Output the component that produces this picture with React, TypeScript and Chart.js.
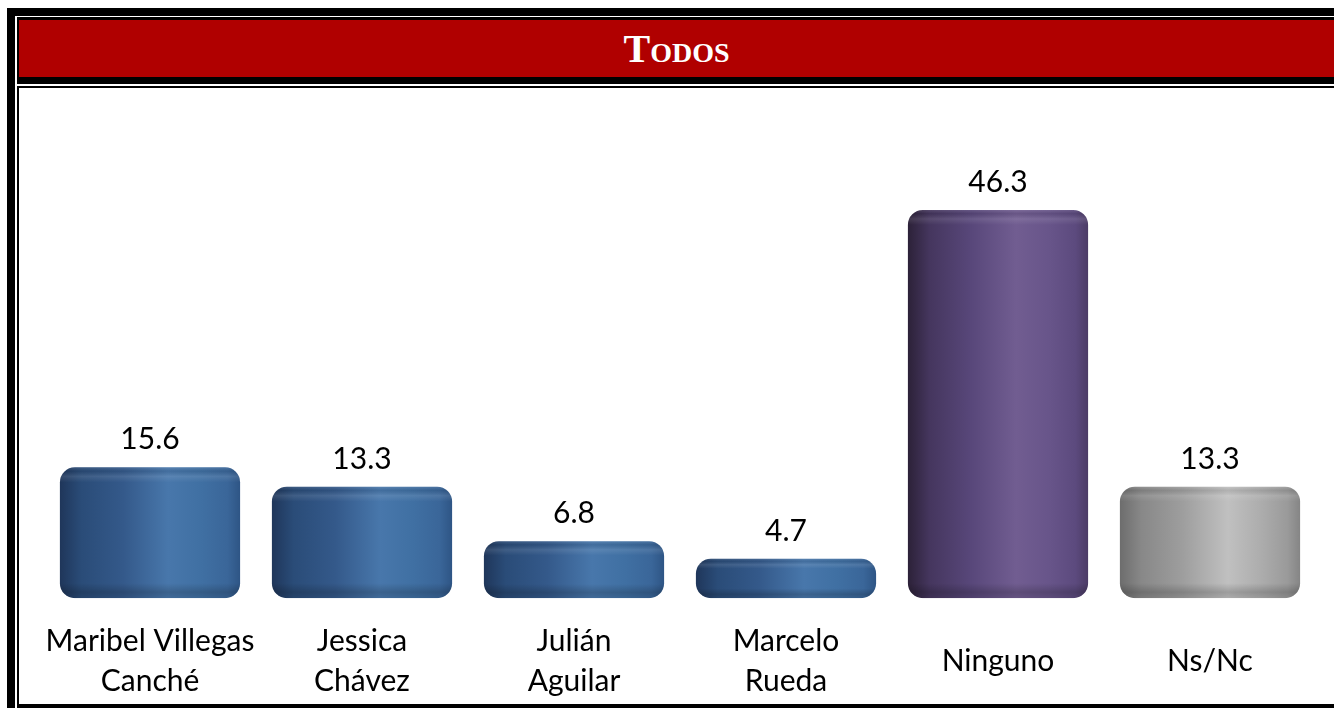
import React, { useEffect, useRef } from "react";
import { Chart, registerables } from "chart.js";

Chart.register(...registerables);

const title = "Todos";
const categories: (string | string[])[] = [
  ["Maribel Villegas", "Canché"],
  ["Jessica", "Chávez"],
  ["Julián", "Aguilar"],
  ["Marcelo", "Rueda"],
  "Ninguno",
  "Ns/Nc",
];
const values = [15.6, 13.3, 6.8, 4.7, 46.3, 13.3];
const valueLabels = ["15.6", "13.3", "6.8", "4.7", "46.3", "13.3"];
const barTones = ["blue", "blue", "blue", "blue", "purple", "gray"];

const palettes: Record<string, string[]> = {
  blue: ["#1f365a", "#2a4c78", "#34598a", "#4877ab", "#4070a3", "#3a6699", "#2e5585"],
  purple: ["#2c2138", "#45365e", "#58477a", "#715d91", "#68558a", "#5c4a7e", "#4c3c66"],
  gray: ["#6d6d6d", "#888888", "#9e9e9e", "#c0c0c0", "#adadad", "#9a9a9a", "#858585"],
};
const stopsPos = [0, 0.12, 0.35, 0.6, 0.78, 0.93, 1];
const FONT = "Lato, 'Open Sans', sans-serif";

const valueLabelPlugin = {
  id: "valueLabels",
  afterDatasetsDraw(chart: any) {
    const ctx = chart.ctx;
    const meta = chart.getDatasetMeta(0);
    ctx.save();
    meta.data.forEach((el: any, i: number) => {
      const { x, y, base, width } = el.getProps(["x", "y", "base", "width"], true);
      const left = x - width / 2;
      const h = base - y;
      const r = Math.min(15, h / 2);
      ctx.save();
      ctx.beginPath();
      (ctx as any).roundRect(left, y, width, h, r);
      ctx.clip();
      const g = ctx.createLinearGradient(0, y, 0, base);
      const e = Math.min(0.25, 15 / h);
      g.addColorStop(0, "rgba(255,255,255,0.10)");
      g.addColorStop(e * 0.25, "rgba(0,0,0,0.08)");
      g.addColorStop(e * 0.6, "rgba(255,255,255,0.10)");
      g.addColorStop(e, "rgba(255,255,255,0)");
      g.addColorStop(1 - e, "rgba(0,0,0,0)");
      g.addColorStop(1 - e * 0.4, "rgba(0,0,0,0.18)");
      g.addColorStop(1, "rgba(0,0,0,0.1)");
      ctx.fillStyle = g;
      ctx.fillRect(left, y, width, h);
      ctx.restore();

      ctx.fillStyle = "#000";
      ctx.font = `30px ${FONT}`;
      ctx.textAlign = "center";
      ctx.textBaseline = "alphabetic";
      ctx.fillText(valueLabels[i], x, y - 18);
    });
    ctx.restore();
  },
};

export default function App() {
  const canvasRef = useRef<HTMLCanvasElement | null>(null);

  useEffect(() => {
    if (!canvasRef.current) return;
    const chart = new Chart(canvasRef.current, {
      type: "bar",
      data: {
        labels: categories,
        datasets: [
          {
            data: values,
            backgroundColor: (c: any) => {
              const ch = c.chart;
              const xs = ch.scales?.x;
              const tone = palettes[barTones[c.dataIndex]] || palettes.blue;
              if (!xs || !ch.chartArea) return tone[2];
              const cx = xs.getPixelForValue(c.dataIndex);
              const w = (xs.width / categories.length) * 0.85;
              const g = ch.ctx.createLinearGradient(cx - w / 2, 0, cx + w / 2, 0);
              tone.forEach((col, k) => g.addColorStop(stopsPos[k], col));
              return g;
            },
            borderRadius: 15,
            borderSkipped: false,
            barPercentage: 0.85,
            categoryPercentage: 1,
          },
        ],
      },
      options: {
        animation: false,
        responsive: true,
        maintainAspectRatio: false,
        layout: { padding: { left: 25, right: 18, top: 7, bottom: 0 } },
        plugins: { legend: { display: false }, tooltip: { enabled: false } },
        scales: {
          x: {
            grid: { display: false },
            border: { display: false },
            afterFit: (scale: any) => {
              scale.paddingLeft = 0;
              scale.paddingRight = 0;
            },
            ticks: {
              color: "#000",
              font: { family: FONT, size: 30, lineHeight: 1.33 },
              padding: 35,
              maxRotation: 0,
              autoSkip: false,
              crossAlign: "center",
            },
          },
          y: {
            display: false,
            min: 0,
            max: 60,
          },
        },
      },
      plugins: [valueLabelPlugin],
    });
    return () => chart.destroy();
  }, []);

  return (
    <div
      style={{
        position: "absolute",
        left: 0,
        top: 0,
        width: 1334,
        height: 708,
        overflow: "hidden",
        background: "#fff",
      }}
    >
      <div style={{ position: "absolute", left: 7, top: 8, width: 8, height: 700, background: "#000" }} />
      <div style={{ position: "absolute", left: 7, top: 8, width: 1327, height: 8, background: "#000" }} />
      <div style={{ position: "absolute", left: 17, top: 17, width: 1317, height: 67, background: "#000" }} />
      <div
        style={{
          position: "absolute",
          left: 19,
          top: 20,
          width: 1315,
          height: 57,
          background: "#b00000",
          display: "flex",
          alignItems: "center",
          justifyContent: "center",
          color: "#fff",
          fontFamily: "'Liberation Serif', 'Times New Roman', serif",
          fontWeight: "bold",
          fontVariant: "small-caps",
          fontSize: 40,
          lineHeight: 1,
        }}
      >
        {title}
      </div>
      <div style={{ position: "absolute", left: 17, top: 86, width: 1317, height: 622, background: "#000" }} />
      <div style={{ position: "absolute", left: 19, top: 88, width: 1315, height: 616, background: "#fff" }} />
      <div style={{ position: "absolute", left: 19, top: 88, width: 1315, height: 668, zIndex: 1 }}>
        <canvas ref={canvasRef} />
      </div>
      <div style={{ position: "absolute", left: 17, top: 704, width: 1317, height: 4, background: "#000", zIndex: 2 }} />
    </div>
  );
}
